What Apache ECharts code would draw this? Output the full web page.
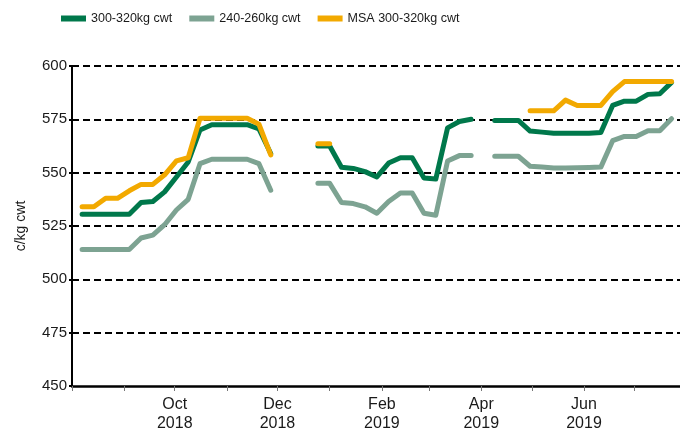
<!DOCTYPE html>
<html>
<head>
<meta charset="utf-8">
<script src="https://cdn.jsdelivr.net/npm/echarts@6/dist/echarts.min.js"></script>
<style>
html,body{margin:0;padding:0;background:#fff;}
#chart{width:680px;height:433px;}
</style>
</head>
<body>
<div id="chart"></div>
<script>
// Weekly sale dates
const dates = [
  '2018-08-07','2018-08-14','2018-08-21','2018-08-28','2018-09-04','2018-09-11','2018-09-18','2018-09-25',
  '2018-10-02','2018-10-09','2018-10-16','2018-10-23','2018-10-30','2018-11-06','2018-11-13','2018-11-20',
  '2018-11-27','2018-12-04','2018-12-11','2018-12-18','2018-12-25','2019-01-01','2019-01-08','2019-01-15',
  '2019-01-22','2019-01-29','2019-02-05','2019-02-12','2019-02-19','2019-02-26','2019-03-05','2019-03-12',
  '2019-03-19','2019-03-26','2019-04-02','2019-04-09','2019-04-16','2019-04-23','2019-04-30','2019-05-07',
  '2019-05-14','2019-05-21','2019-05-28','2019-06-04','2019-06-11','2019-06-18','2019-06-25','2019-07-02',
  '2019-07-09','2019-07-16','2019-07-23'
];
const seriesNames = ['300-320kg cwt', '240-260kg cwt', 'MSA 300-320kg cwt'];
const heavy = [
  530.5,530.5,530.5,530.5,530.5,536,536.5,541,548,555,570,572.5,572.5,572.5,572.5,570.5,559,
  null,null,null,
  562.5,562.5,552.5,552,550.5,548,554.5,557,557,547.5,547,571,574,575,
  null,
  574.5,574.5,574.5,569.5,569,568.5,568.5,568.5,568.5,568.8,581.5,583.5,583.5,586.7,587,592.3
];
const light = [
  514,514,514,514,514,519.4,520.7,525.6,532.5,537.5,554.2,556.3,556.3,556.3,556.3,554.2,541.8,
  null,null,null,
  545,545,536,535.5,534,531,536.5,540.5,540.5,531,530,555.5,558,558,
  null,
  557.7,557.7,557.7,553,552.7,552.2,552.2,552.3,552.4,552.6,565,567,567,569.6,569.6,575.3
];
const msa = [
  534,534,538,538,541.5,544.5,544.5,549,555.5,557,575.5,575.5,575.5,575.5,575.5,572.7,558.3,
  null,null,null,
  563.5,563.5,null,null,null,null,null,null,null,null,null,null,null,null,
  null,
  null,null,null,579,579,579,584,581.5,581.5,581.5,588,592.7,592.7,592.7,592.7,592.7
];
const monthTicks = [
  '2018-08-01','2018-09-01','2018-10-01','2018-11-01','2018-12-01','2019-01-01',
  '2019-02-01','2019-03-01','2019-04-01','2019-05-01','2019-06-01','2019-07-01'
];
const labelMonths = ['2018-10-01','2018-12-01','2019-02-01','2019-04-01','2019-06-01'];
const axisStart = '2018-08-01';
const axisEnd = '2019-07-28';
const yMin = 450, yMax = 600, yStep = 25;
const yName = 'c/kg cwt';
const monthNames = ['Jan','Feb','Mar','Apr','May','Jun','Jul','Aug','Sep','Oct','Nov','Dec'];

function ts(s){ const p = s.split('-'); return Date.UTC(+p[0], +p[1]-1, +p[2]); }
function pairs(vals){ return dates.map((d,i)=>[ts(d), vals[i]]); }

const colors = ['#00784B', '#7DA392', '#F2A900'];
const chart = echarts.init(document.getElementById('chart'), null, {renderer:'canvas'});
const font = 'Liberation Sans, Arial, sans-serif';
chart.setOption({
  animation: false,
  color: colors,
  textStyle: {fontFamily: font},
  legend: {
    top: 7, left: 56,
    icon: 'rect', itemWidth: 25, itemHeight: 6, itemGap: 17, itemStyle: {borderWidth: 0},
    textStyle: {fontSize: 12.5, color: '#1a1a1a', fontFamily: font},
    data: seriesNames
  },
  grid: {left: 72, right: 0, top: 66, bottom: 43},
  xAxis: {
    type: 'value',
    min: ts(axisStart), max: ts(axisEnd),
    axisLine: {show: true, onZero: false, lineStyle: {color: '#000', width: 2.5}},
    axisTick: {show: true, customValues: monthTicks.map(ts), length: 5, lineStyle: {color: '#777', width: 1}},
    axisLabel: {
      customValues: labelMonths.map(ts),
      fontSize: 16, color: '#1a1a1a', lineHeight: 19, margin: 9, fontFamily: font,
      formatter: function(v){ const d = new Date(v); return monthNames[d.getUTCMonth()] + '\n' + d.getUTCFullYear(); }
    },
    splitLine: {show: false}
  },
  yAxis: {
    type: 'value', min: yMin, max: yMax, interval: yStep,
    name: yName, nameLocation: 'middle', nameRotate: 90, nameGap: 44,
    nameTextStyle: {fontSize: 14, color: '#1a1a1a', fontFamily: font},
    axisLine: {show: true, lineStyle: {color: '#000', width: 2}},
    axisTick: {show: true, length: 3, lineStyle: {color: '#000', width: 2}},
    axisLabel: {fontSize: 15, color: '#1a1a1a', margin: 5, fontFamily: font},
    splitLine: {show: true, showMinLine: false, lineStyle: {color: '#000', width: 2, type: [7, 4]}}
  },
  series: [
    {name: seriesNames[0], type: 'line', data: pairs(heavy), showSymbol: false, connectNulls: false,
     lineStyle: {width: 5, cap: 'round', join: 'round'}},
    {name: seriesNames[1], type: 'line', data: pairs(light), showSymbol: false, connectNulls: false,
     lineStyle: {width: 5, cap: 'round', join: 'round'}},
    {name: seriesNames[2], type: 'line', data: pairs(msa), showSymbol: false, connectNulls: false,
     lineStyle: {width: 5, cap: 'round', join: 'round'}}
  ]
});
</script>
</body>
</html>
